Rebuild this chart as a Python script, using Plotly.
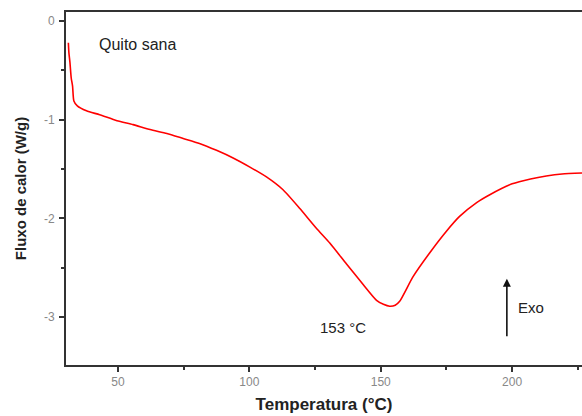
import plotly.graph_objects as go

temp = [31.1, 31.3, 31.7, 32.2, 32.7, 33.2, 34.5, 38.0, 43.0, 49.6, 55.7, 62.2, 68.6, 74.8,
        81.0, 87.5, 94.0, 100.2, 106.5, 112.8, 119.2, 125.5, 130.6, 136.9, 143.3, 148.4,
        151.0, 153.4, 155.5, 157.2, 162.3, 168.6, 175.0, 180.0, 186.5, 191.5, 200.0, 207.0,
        213.0, 219.0, 226.6]
flux = [-0.22, -0.32, -0.42, -0.58, -0.66, -0.81, -0.86, -0.91, -0.95, -1.01, -1.05, -1.10,
        -1.14, -1.19, -1.24, -1.31, -1.39, -1.48, -1.58, -1.71, -1.90, -2.10, -2.25, -2.46,
        -2.67, -2.83, -2.87, -2.89, -2.88, -2.84, -2.59, -2.35, -2.13, -1.98, -1.84, -1.76,
        -1.65, -1.60, -1.57, -1.55, -1.54]

x_ticks = [50, 100, 150, 200]
y_ticks = [0, -1, -2, -3]
y_labels = ["0", "-1", "-2", "-3"]

fig = go.Figure()
fig.add_trace(go.Scatter(x=temp, y=flux, mode="lines",
                         line=dict(color="#ff0000", width=1.6, shape="spline", smoothing=0.6),
                         showlegend=False))

fig.add_annotation(x=42.0, y=-0.24, text="Quito sana", showarrow=False, xanchor="left",
                   font=dict(size=16, color="#222"))
fig.add_annotation(x=135.5, y=-3.10, text="153 °C", showarrow=False,
                   font=dict(size=15, color="#222"))
fig.add_annotation(x=201.5, y=-2.9, text="Exo", showarrow=False, xanchor="left",
                   font=dict(size=15, color="#222"))
fig.add_annotation(x=198, y=-2.61, ax=198, ay=-3.21, xref="x", yref="y", axref="x", ayref="y",
                   showarrow=True, arrowhead=2, arrowsize=1, arrowwidth=1.6, arrowcolor="#111",
                   text="")

axis_common = dict(showline=True, linecolor="#333", linewidth=2, ticks="outside",
                   tickcolor="#333", tickwidth=2, ticklen=5, showgrid=False, zeroline=False,
                   tickfont=dict(size=12, color="#888"))
fig.update_xaxes(range=[30.2, 226.6], tickvals=x_ticks, mirror=True,
                 minor=dict(tickvals=[75, 125, 175, 225], ticklen=3, tickcolor="#333", tickwidth=2, ticks="outside"),
                 title=dict(text="<b>Temperatura (°C)</b>", font=dict(size=17, color="#222"), standoff=10),
                 **axis_common)
fig.update_yaxes(range=[-3.485, 0.091], tickvals=y_ticks, ticktext=y_labels, ticklabelstandoff=2,
                 minor=dict(tickvals=[-0.5, -1.5, -2.5, -3.5], ticklen=3, tickcolor="#333", tickwidth=2, ticks="outside"),
                 title=dict(text="<b>Fluxo de calor (W/g)</b>", font=dict(size=15, color="#222"), standoff=14),
                 **axis_common)
fig.update_layout(width=582, height=416, margin=dict(l=66, r=0, t=12, b=51),
                  paper_bgcolor="white", plot_bgcolor="white",
                  font=dict(family="Liberation Sans, Arial, sans-serif"))
fig.write_html("out.html")
